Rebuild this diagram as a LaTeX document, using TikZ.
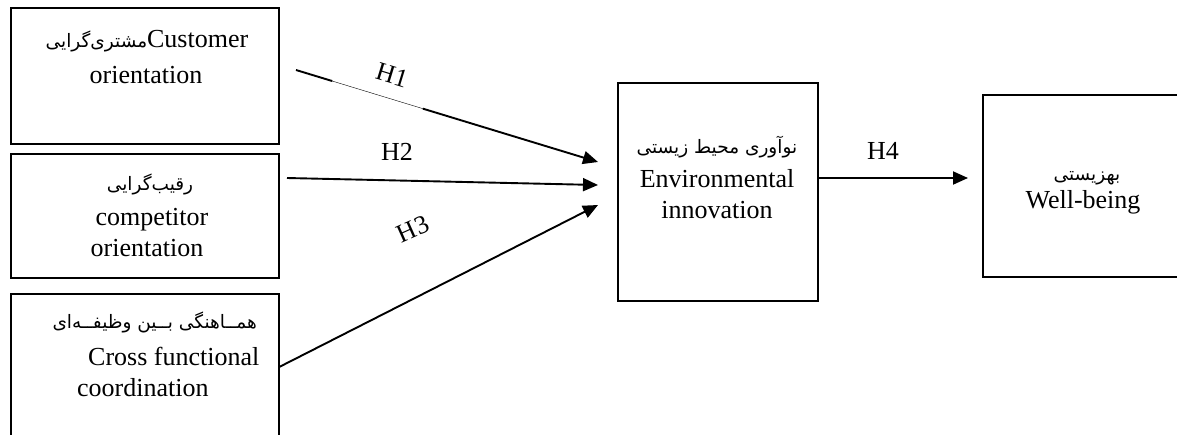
\documentclass[tikz,border=0pt]{standalone}
\usepackage{fontspec}
\setmainfont{Liberation Serif}
\newfontfamily\fafont[Script=Arabic]{DejaVu Sans}
\TeXXeTstate=1
\usetikzlibrary{arrows.meta,calc}
\newcommand{\prs}[1]{{\fafont\fontsize{18.5}{22}\selectfont\beginR #1\endR}}
\begin{document}
\begin{tikzpicture}[x=1pt,y=-1pt,
  box/.style={draw,line width=1.6pt,rectangle,inner sep=0pt,anchor=north west},
  conn/.style={line width=1.9pt,-{Triangle[length=15pt,width=13pt]}},
  txt/.style={font=\fontsize{26}{32}\selectfont,inner sep=0pt,anchor=base},
  lab/.style={font=\fontsize{26}{30}\selectfont,inner sep=0pt}]
\useasboundingbox (0,0) rectangle (1177,434);
\clip (0,0) rectangle (1177,434);
% boxes
\node[box,minimum width=268pt,minimum height=136pt] (c1) at (10,7) {};
\node[box,minimum width=268pt,minimum height=124pt] (c2) at (10,153) {};
\node[box,minimum width=268pt,minimum height=146pt] (c3) at (10,293) {};
\node[box,minimum width=200pt,minimum height=218pt] (env) at (617,82) {};
\node[box,minimum width=230pt,minimum height=182pt] (wb) at (982,94) {};
% texts
\node[txt] (c1a) at (147,47) {\prs{مشتری‌گرایی}Customer};
\node[txt] (c1b) at (146,83) {orientation};
\node[txt] (c2a) at (150,190) {\prs{رقیب‌گرایی}};
\node[txt] (c2b) at (152,225) {competitor};
\node[txt] (c2c) at (147,256) {orientation};
\node[txt,anchor=base east] (c3a) at (257,328) {\prs{همــاهنگی بــین وظیفــه‌ای}};
\node[txt,anchor=base west] (c3b) at (88,365) {Cross functional};
\node[txt,anchor=base west] (c3c) at (77,396) {coordination};
\node[txt] (enva) at (717,153) {\prs{نوآوری محیط زیستی}};
\node[txt] (envb) at (717,187) {Environmental};
\node[txt] (envc) at (717,218) {innovation};
\node[txt] (wba) at (1087,180) {\prs{بهزیستی}};
\node[txt] (wbb) at (1083,208) {Well-being};
% connector ends
\coordinate (s1) at (296,70);
\coordinate (t1) at (598,162);
\coordinate (s2) at (287,178);
\coordinate (t2) at (598,185);
\coordinate (t3) at (598,205);
\coordinate (t4) at (968,178);
% connectors
\draw[line width=1.9pt] (s1) -- ($(s1)!0.12!(t1)$);
\draw[line width=0.4pt] ($(s1)!0.12!(t1)$) -- ($(s1)!0.42!(t1)$);
\draw[conn] ($(s1)!0.42!(t1)$) -- (t1);
\draw[conn] (s2) -- (t2);
\draw[conn] (c3.east) -- (t3);
\draw[conn] (env.east |- t4) -- (t4);
% labels
\node[lab,rotate=-17] (h1) at (392,75) {H1};
\node[lab] (h2) at (397,152) {H2};
\node[lab,rotate=24] (h3) at (413,229) {H3};
\node[lab] (h4) at (883,151) {H4};
\end{tikzpicture}
\end{document}
